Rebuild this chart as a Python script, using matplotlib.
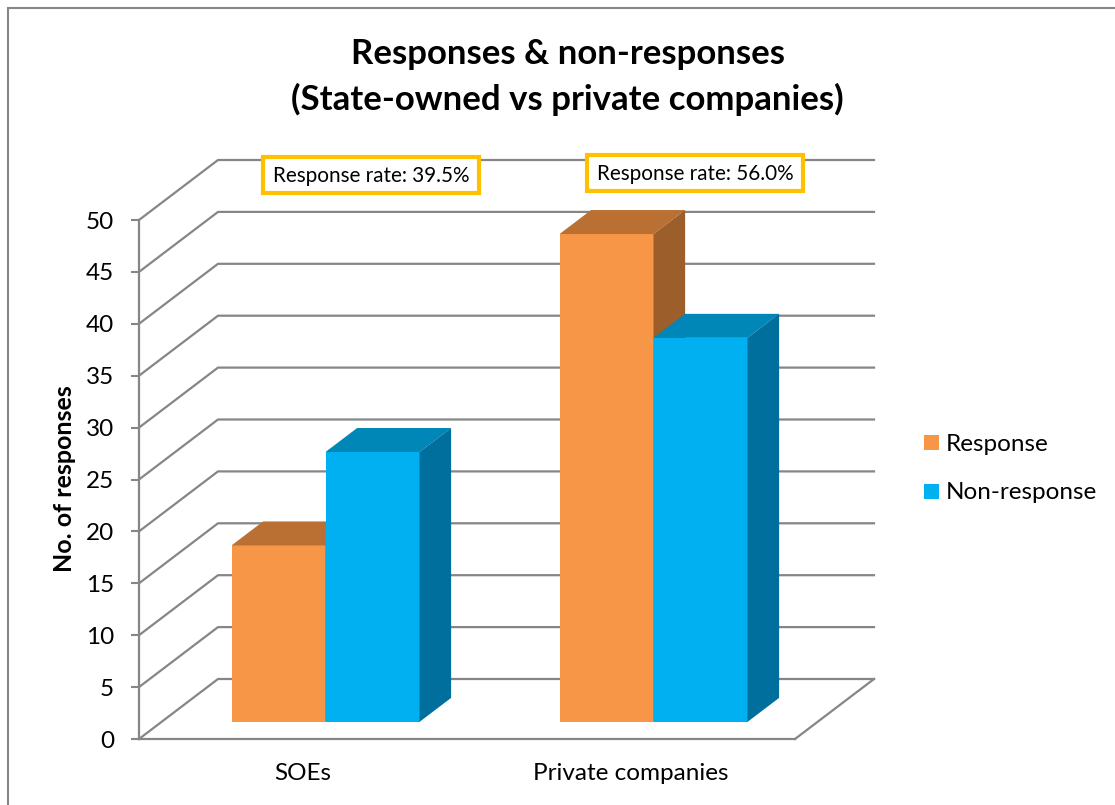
import matplotlib
matplotlib.use("Agg")
import matplotlib.pyplot as plt
from matplotlib.patches import Rectangle

plt.rcParams['font.family'] = ['Lato', 'DejaVu Sans']

W, H = 1115, 805

categories = ['SOEs', 'Private companies']
response = [17, 47]
non_response = [26, 37]
rate_labels = ['Response rate: 39.5%', 'Response rate: 56.0%']
y_ticks = [0, 5, 10, 15, 20, 25, 30, 35, 40, 45, 50]

GREY = '#868686'
ORANGE = ('#F79646', '#BB7033', '#9C5F2B')   # front, top, side
BLUE = ('#00B0F0', '#0086B7', '#006F9E')

# depth of the fake 3D box, in data units
depth_x = 79 / 328
depth_y = 60 / (519 / 50)
bar_w = 94 / 328
bar_front = 0.285   # bars start this far into the box
bar_depth = 0.4     # and are this deep


def fx(x):
    return x / W


def fy(y):
    return 1 - y / H


fig = plt.figure(figsize=(W / 100, H / 100), dpi=100, facecolor='white')
ax = fig.add_axes([fx(139), fy(739), (795 - 139) / W, (739 - 220) / H])
ax.set_xlim(0, 2)
ax.set_ylim(0, 50)
ax.patch.set_visible(False)

# chart frame, runs off the right and bottom of the picture
fig.add_artist(Rectangle((fx(8), fy(830)), (1200 - 8) / W, (830 - 8) / H,
                         transform=fig.transFigure, fill=False, edgecolor=GREY, lw=1.5))

# walls
for v in y_ticks:
    ax.plot([0, depth_x, 2 + depth_x], [v, v + depth_y, v + depth_y],
            color=GREY, lw=1.6, clip_on=False, zorder=1, solid_joinstyle='round')
ax.plot([2, 2 + depth_x], [0, depth_y], color=GREY, lw=1.6, clip_on=False, zorder=1)

# bars, orange first so the blue top lies over the orange side
off_x = bar_front * depth_x
off_y = bar_front * depth_y
dx = bar_depth * depth_x
dy = bar_depth * depth_y
for i in range(len(categories)):
    center = i + 0.5 + off_x
    for z, vals, cols, left in [(2, response, ORANGE, center - bar_w), (3, non_response, BLUE, center)]:
        v = vals[i]
        top = off_y + v
        ax.bar(left, v, bar_w, bottom=off_y, align='edge', color=cols[0], zorder=z, clip_on=False)
        ax.fill([left, left + dx, left + bar_w + dx, left + bar_w],
                [top, top + dy, top + dy, top], color=cols[1], lw=0, zorder=z, clip_on=False)
        ax.fill([left + bar_w, left + bar_w + dx, left + bar_w + dx, left + bar_w],
                [off_y, off_y + dy, top + dy, top], color=cols[2], lw=0, zorder=z, clip_on=False)

for s in ['top', 'right']:
    ax.spines[s].set_visible(False)
for s in ['left', 'bottom']:
    ax.spines[s].set_color(GREY)
    ax.spines[s].set_linewidth(1.6)
    ax.spines[s].set_zorder(4)

ax.set_yticks(y_ticks)
ax.tick_params(axis='y', length=6, width=1.5, color=GREY, labelsize=17.5, pad=12)
ax.set_xticks([0.5, 1.5])
ax.set_xticklabels(categories)
ax.tick_params(axis='x', length=0, labelsize=17.5, pad=17.5)

fig.text(fx(64), fy(479), 'No. of responses', rotation=90, fontsize=18, fontweight='bold',
         ha='center', va='center')

fig.text(fx(568), fy(54), 'Responses & non-responses', fontsize=25, fontweight='bold',
         ha='center', va='center')
fig.text(fx(567), fy(99), '(State-owned vs private companies)', fontsize=25, fontweight='bold',
         ha='center', va='center')

# response rate boxes
for label, x0, y0 in zip(rate_labels, [263, 587], [157, 155]):
    fig.add_artist(Rectangle((fx(x0), fy(y0 + 36)), 216 / W, 36 / H, transform=fig.transFigure,
                             facecolor='white', edgecolor='#FFC000', lw=3))
    fig.text(fx(x0 + 108), fy(y0 + 19), label, fontsize=14.9, ha='center', va='center')

# legend
for label, cols, y in zip(['Response', 'Non-response'], [ORANGE, BLUE], [443, 491]):
    fig.add_artist(Rectangle((fx(924), fy(y + 7.5)), 15 / W, 15 / H, transform=fig.transFigure,
                             facecolor=cols[0], edgecolor='none'))
    fig.text(fx(946), fy(y + 1), label, fontsize=17.5, ha='left', va='center')

fig.savefig('out.png', dpi=100)
